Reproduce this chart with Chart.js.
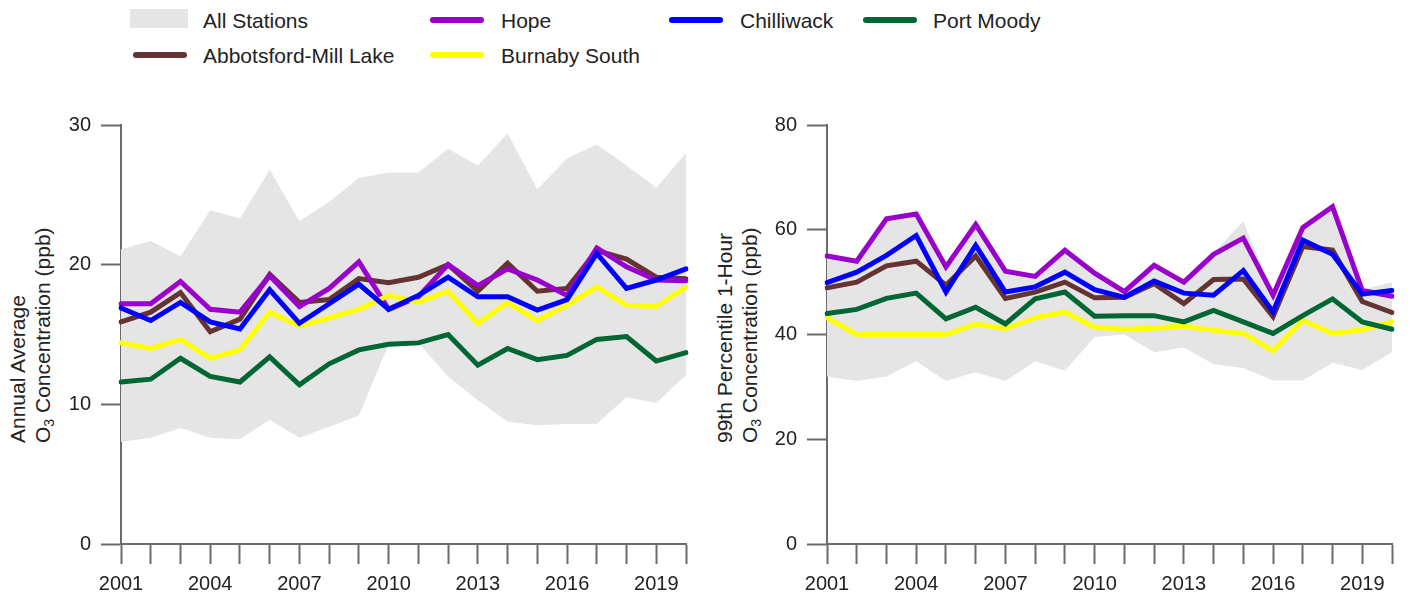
<!DOCTYPE html>
<html>
<head>
<meta charset="utf-8">
<title>Ozone concentrations, 2001–2020</title>
<script src="https://cdn.jsdelivr.net/npm/chart.js@4.4.1/dist/chart.umd.min.js"></script>
<style>
  html, body { margin: 0; padding: 0; background: #fff; }
  body {
    width: 1419px; height: 599px; position: relative; overflow: hidden;
    font-family: "Liberation Sans", Arial, Helvetica, sans-serif; color: #222;
  }
  canvas { position: absolute; top: 0; }
  #annualCanvas { left: 0; }
  #p99Canvas { left: 706px; }
  .key-text { position: absolute; font-size: 21px; line-height: 21px; white-space: nowrap; }
  .key-line { position: absolute; height: 6px; border-radius: 3px; }
  .key-box { position: absolute; }
  .y-title {
    position: absolute; font-size: 21px; line-height: 25px; white-space: nowrap;
    transform-origin: 0 0; transform: rotate(-90deg);
  }
  .y-title sub { font-size: 14px; line-height: 0; vertical-align: -4px; }
</style>
</head>
<body>
<div id="legend"></div>
<div class="y-title" style="left:5px; top:443px;">Annual Average<br>O<sub>3</sub> Concentration (ppb)</div>
<div class="y-title" style="left:712px; top:443px;">99th Percentile 1-Hour<br>O<sub>3</sub> Concentration (ppb)</div>
<canvas id="annualCanvas" width="710" height="599"></canvas>
<canvas id="p99Canvas" width="710" height="599"></canvas>

<script>
// ---- data -------------------------------------------------------------
const years = ['2001','2002','2003','2004','2005','2006','2007','2008','2009','2010',
               '2011','2012','2013','2014','2015','2016','2017','2018','2019','2020'];

// Annual average O3 (ppb)
const allStationsMaxAnnual = [21.1, 21.7, 20.6, 23.9, 23.3, 26.8, 23.1, 24.5, 26.2, 26.6,
                              26.6, 28.3, 27.1, 29.4, 25.4, 27.6, 28.6, 27.1, 25.5, 28.0];
const allStationsMinAnnual = [7.3, 7.6, 8.3, 7.6, 7.5, 8.9, 7.6, 8.4, 9.2, 14.3,
                              14.4, 12.0, 10.3, 8.75, 8.5, 8.6, 8.6, 10.5, 10.1, 12.1];
const hopeAnnual        = [17.2, 17.2, 18.8, 16.8, 16.6, 19.2, 17.0, 18.3, 20.2, 16.8,
                           17.7, 20.0, 18.5, 19.7, 18.9, 17.8, 21.2, 19.85, 18.9, 18.85];
const chilliwackAnnual  = [16.9, 16.0, 17.3, 15.9, 15.4, 18.2, 15.8, 17.2, 18.6, 16.8,
                           17.8, 19.1, 17.7, 17.7, 16.75, 17.5, 20.8, 18.3, 18.9, 19.7];
const abbotsfordAnnual  = [15.9, 16.6, 18.0, 15.2, 16.1, 19.3, 17.3, 17.5, 19.0, 18.7,
                           19.1, 20.0, 18.1, 20.1, 18.1, 18.3, 21.0, 20.4, 19.1, 19.0];
const burnabyAnnual     = [14.4, 14.0, 14.65, 13.3, 13.9, 16.6, 15.6, 16.2, 16.8, 17.8,
                           17.3, 18.1, 15.8, 17.3, 16.0, 17.1, 18.4, 17.1, 17.0, 18.4];
const portMoodyAnnual   = [11.6, 11.8, 13.3, 12.0, 11.6, 13.4, 11.4, 12.9, 13.9, 14.3,
                           14.4, 15.0, 12.8, 14.0, 13.2, 13.5, 14.65, 14.85, 13.1, 13.7];

// 99th percentile 1-hour O3 (ppb)
const allStationsMaxP99 = [55.3, 54.3, 62.3, 63.2, 53.2, 61.2, 52.3, 51.3, 56.3, 52.0,
                           48.5, 53.5, 50.2, 55.6, 61.6, 47.8, 60.6, 64.6, 48.6, 50.0];
const allStationsMinP99 = [32.0, 31.1, 32.0, 34.9, 31.1, 32.8, 31.1, 34.9, 33.1, 39.5,
                           40.0, 36.6, 37.5, 34.3, 33.6, 31.2, 31.2, 34.6, 33.2, 36.6];
const hopeP99        = [55.0, 54.0, 62.1, 63.0, 52.9, 61.0, 52.1, 51.1, 56.1, 51.7,
                        48.2, 53.2, 50.0, 55.3, 58.4, 47.5, 60.4, 64.4, 48.4, 47.3];
const chilliwackP99  = [49.9, 51.9, 55.1, 58.9, 48.1, 57.0, 48.1, 49.1, 51.9, 48.55,
                        47.1, 50.2, 47.9, 47.5, 52.2, 44.3, 58.0, 55.3, 47.7, 48.4];
const abbotsfordP99  = [48.9, 50.0, 53.1, 54.0, 49.4, 55.0, 46.9, 48.1, 50.0, 47.0,
                        47.1, 49.7, 45.9, 50.5, 50.6, 43.4, 56.8, 56.1, 46.3, 44.2];
const burnabyP99     = [43.2, 40.0, 40.0, 40.0, 40.0, 42.0, 41.1, 43.2, 44.3, 41.4,
                        41.0, 41.2, 41.6, 40.8, 40.2, 36.9, 42.7, 40.2, 40.9, 42.4];
const portMoodyP99   = [44.0, 44.8, 46.9, 47.9, 43.0, 45.2, 42.0, 46.8, 48.1, 43.5,
                        43.6, 43.6, 42.4, 44.6, 42.4, 40.2, 43.6, 46.8, 42.4, 41.0];

// ---- styling ----------------------------------------------------------
const FONT = '"Liberation Sans", Arial, Helvetica, sans-serif';
const AXIS = '#6b6b6b';
const TEXT = '#222222';
const BAND = '#e5e5e5';
const COLORS = {
  hope: '#9900cc',
  chilliwack: '#0000ff',
  portMoody: '#006633',
  abbotsford: '#663333',
  burnaby: '#ffff00'
};

// ---- legend (shared by both panels) -----------------------------------
const legendItems = [
  { label: 'All Stations',         kind: 'box',  color: BAND,              sx: 130, tx: 203, row: 0 },
  { label: 'Hope',                 kind: 'line', color: COLORS.hope,       sx: 430, tx: 501, row: 0 },
  { label: 'Chilliwack',           kind: 'line', color: COLORS.chilliwack, sx: 669, tx: 740, row: 0 },
  { label: 'Port Moody',           kind: 'line', color: COLORS.portMoody,  sx: 863, tx: 933, row: 0 },
  { label: 'Abbotsford-Mill Lake', kind: 'line', color: COLORS.abbotsford, sx: 133, tx: 203, row: 1 },
  { label: 'Burnaby South',        kind: 'line', color: COLORS.burnaby,    sx: 430, tx: 501, row: 1 }
];
const rowCentre = [20, 55];
const legendEl = document.getElementById('legend');
legendItems.forEach(item => {
  const cy = rowCentre[item.row];
  const sw = document.createElement('div');
  if (item.kind === 'box') {
    sw.className = 'key-box';
    Object.assign(sw.style, { left: item.sx + 'px', top: (cy - 11) + 'px', width: '58px', height: '19px', background: item.color });
  } else {
    sw.className = 'key-line';
    Object.assign(sw.style, { left: item.sx + 'px', top: (cy - 3) + 'px', width: '54px', background: item.color });
  }
  legendEl.appendChild(sw);
  const tx = document.createElement('div');
  tx.className = 'key-text';
  tx.textContent = item.label;
  Object.assign(tx.style, { left: item.tx + 'px', top: (cy - 10.5) + 'px' });
  legendEl.appendChild(tx);
});

// ---- charts -----------------------------------------------------------
function stationLine(label, data, color, order) {
  return {
    label, data, order,
    borderColor: color, backgroundColor: color,
    borderWidth: 5, borderCapStyle: 'round',
    pointRadius: 0, pointHoverRadius: 0,
    tension: 0, fill: false
  };
}

function panel(canvasId, s, yMax, yStep) {
  const datasets = [
    stationLine('Port Moody', s.portMoody, COLORS.portMoody, 1),
    stationLine('Chilliwack', s.chilliwack, COLORS.chilliwack, 2),
    stationLine('Burnaby South', s.burnaby, COLORS.burnaby, 3),
    stationLine('Hope', s.hope, COLORS.hope, 4),
    stationLine('Abbotsford-Mill Lake', s.abbotsford, COLORS.abbotsford, 5),
    {
      label: 'All Stations', data: s.max, order: 10,
      borderWidth: 0, borderColor: 'rgba(0,0,0,0)', backgroundColor: BAND,
      pointRadius: 0, pointHoverRadius: 0, tension: 0, fill: '+1'
    },
    {
      label: 'All Stations (minimum)', data: s.min, order: 11,
      borderWidth: 0, borderColor: 'rgba(0,0,0,0)', backgroundColor: BAND,
      pointRadius: 0, pointHoverRadius: 0, tension: 0, fill: false
    }
  ];

  return new Chart(document.getElementById(canvasId), {
    type: 'line',
    data: { labels: years, datasets },
    options: {
      responsive: false,
      animation: false,
      devicePixelRatio: 1,
      events: [],
      layout: { padding: { top: 125, right: 24, bottom: 0, left: 0 } },
      plugins: {
        legend: { display: false },
        tooltip: { enabled: false },
        filler: { drawTime: 'beforeDatasetsDraw' }
      },
      scales: {
        x: {
          type: 'category',
          offset: false,
          border: { display: true, color: AXIS, width: 2 },
          grid: {
            display: true, drawOnChartArea: false, drawTicks: true, offset: false,
            tickLength: 20, tickWidth: 2, tickColor: AXIS, color: AXIS
          },
          ticks: {
            autoSkip: false, maxRotation: 0, minRotation: 0, padding: 8,
            color: TEXT, font: { family: FONT, size: 20 },
            callback: (value, index) => (index % 3 === 0 ? years[index] : '')
          },
          afterFit: scale => { scale.height = 55; }
        },
        y: {
          min: 0, max: yMax,
          border: { display: true, color: AXIS, width: 2 },
          grid: {
            display: true, drawOnChartArea: false, drawTicks: true,
            tickLength: 20, tickWidth: 2, tickColor: AXIS, color: AXIS
          },
          ticks: {
            stepSize: yStep, padding: 10,
            color: TEXT, font: { family: FONT, size: 20 }
          },
          afterFit: scale => { scale.width = 121; }
        }
      }
    }
  });
}

panel('annualCanvas', {
  max: allStationsMaxAnnual, min: allStationsMinAnnual,
  hope: hopeAnnual, chilliwack: chilliwackAnnual, portMoody: portMoodyAnnual,
  abbotsford: abbotsfordAnnual, burnaby: burnabyAnnual
}, 30, 10);

panel('p99Canvas', {
  max: allStationsMaxP99, min: allStationsMinP99,
  hope: hopeP99, chilliwack: chilliwackP99, portMoody: portMoodyP99,
  abbotsford: abbotsfordP99, burnaby: burnabyP99
}, 80, 20);
</script>
</body>
</html>
